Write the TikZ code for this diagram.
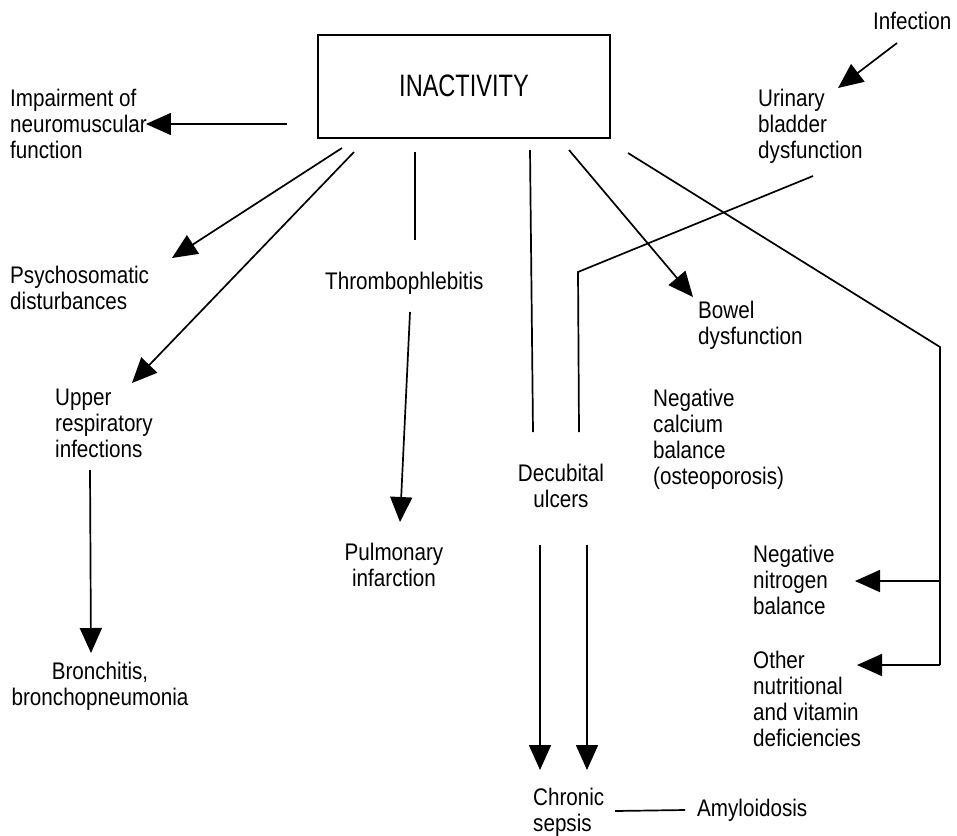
\documentclass[tikz,border=0pt]{standalone}
\usepackage{fontspec}
\setmainfont{Liberation Sans}[FakeStretch=0.86]
\newfontfamily\boxfont{Liberation Sans}[FakeStretch=0.76]
\usetikzlibrary{arrows.meta,positioning}

\begin{document}
\begin{tikzpicture}[
      x=1pt, y=-1pt,
      arr/.style={-{Triangle[length=25pt,width=22pt]}, line width=1.7pt},
      link/.style={line width=1.7pt},
      lbl/.style={inner sep=0pt, align=left, anchor=north west,
                  font=\fontsize{24}{26}\selectfont},
      clbl/.style={lbl, align=center, anchor=north},
      mainbox/.style={draw, line width=2pt, minimum width=292pt, minimum height=103pt,
                      font=\boxfont\fontsize{31}{34}\selectfont}
    ]
    \useasboundingbox (0,0) rectangle (957,835);
    \node[mainbox] (inact) at (464,86) {INACTIVITY};
    \node[lbl] (neuro) at (10,89) {Impairment of\\neuromuscular\\function};
    \node[lbl] (psycho) at (10,266) {Psychosomatic\\disturbances};
    \node[lbl] (upper) at (55,389) {Upper\\respiratory\\infections};
    \node[clbl] (bronch) at (100,662) {Bronchitis,\\bronchopneumonia};
    \node[lbl] (thrombo) at (325,272) {Thrombophlebitis};
    \node[clbl] (pulm) at (394,543) {Pulmonary\\infarction};
    \node[clbl] (decub) at (561,464) {Decubital\\ulcers};
    \node[lbl] (chronic) at (533,788) {Chronic\\sepsis};
    \node[lbl, anchor=west] (amyl) at (697,810) {Amyloidosis};
    \node[lbl] (bowel) at (698,301) {Bowel\\dysfunction};
    \node[lbl] (calcium) at (653,389) {Negative\\calcium\\balance\\(osteoporosis)};
    \node[lbl] (nitro) at (753,545) {Negative\\nitrogen\\balance};
    \node[lbl] (other) at (753,651) {Other\\nutritional\\and vitamin\\deficiencies};
    \node[lbl] (urinary) at (758,89) {Urinary\\bladder\\dysfunction};
    \node[lbl] (infect) at (873,12) {Infection};

    \coordinate (s-neuro) at (287,124);
    \coordinate (s-psycho) at (342,148);
    \coordinate (s-upper) at (354,152);
    \coordinate (s-thrombo) at (415,152);
    \coordinate (s-decub) at (530,150);
    \coordinate (s-bowel) at (569,150);
    \coordinate (s-nutr) at (628,153);
    \coordinate (k-nutr) at (940,347);
    \coordinate (k-low) at (940,665);
    \coordinate (k-urin) at (578,272);
    \coordinate (t-nitro) at ([shift={(102,36)}]nitro.north west);
    \coordinate (t-other) at ([shift={(104,14)}]other.north west);

    \draw[arr] (s-neuro) -- ([xshift=-1pt]s-neuro -| neuro.east);
    \draw[arr] (s-psycho) -- ([shift={(162,-8)}]psycho.north west);
    \draw[arr] (s-upper) -- ([shift={(77,-6)}]upper.north west);
    \draw[arr] ([shift={(35,81)}]upper.north west) -- ([shift={(-9,-9)}]bronch.north);
    \draw[link] (s-thrombo) -- ([shift={(90,-32)}]thrombo.north west);
    \draw[arr] ([shift={(85,40)}]thrombo.north west) -- ([shift={(6,-21)}]pulm.north);
    \draw[link] (s-decub) -- ([shift={(-28,-32)}]decub.north);
    \draw[link] ([shift={(55,87)}]urinary.north west) -- (k-urin)
      -- ([shift={(18,-32)}]decub.north);
    \draw[arr] (s-bowel) -- ([shift={(-5,-4)}]bowel.north west);
    \draw[link] (s-nutr) -- (k-nutr) -- (k-low);
    \draw[arr] (k-nutr |- t-nitro) -- (t-nitro);
    \draw[arr] (k-low) -- (t-other);
    \draw[arr] ([shift={(24,31)}]infect.north west) -- ([shift={(80,-1)}]urinary.north west);
    \draw[arr] ([shift={(-21,81)}]decub.north) -- ([shift={(7,-18)}]chronic.north west);
    \draw[arr] ([shift={(26,81)}]decub.north) -- ([shift={(54,-18)}]chronic.north west);
    \draw[link] ([shift={(82,23)}]chronic.north west) -- ([xshift=-12pt]amyl.west);
  \end{tikzpicture}
\end{document}
